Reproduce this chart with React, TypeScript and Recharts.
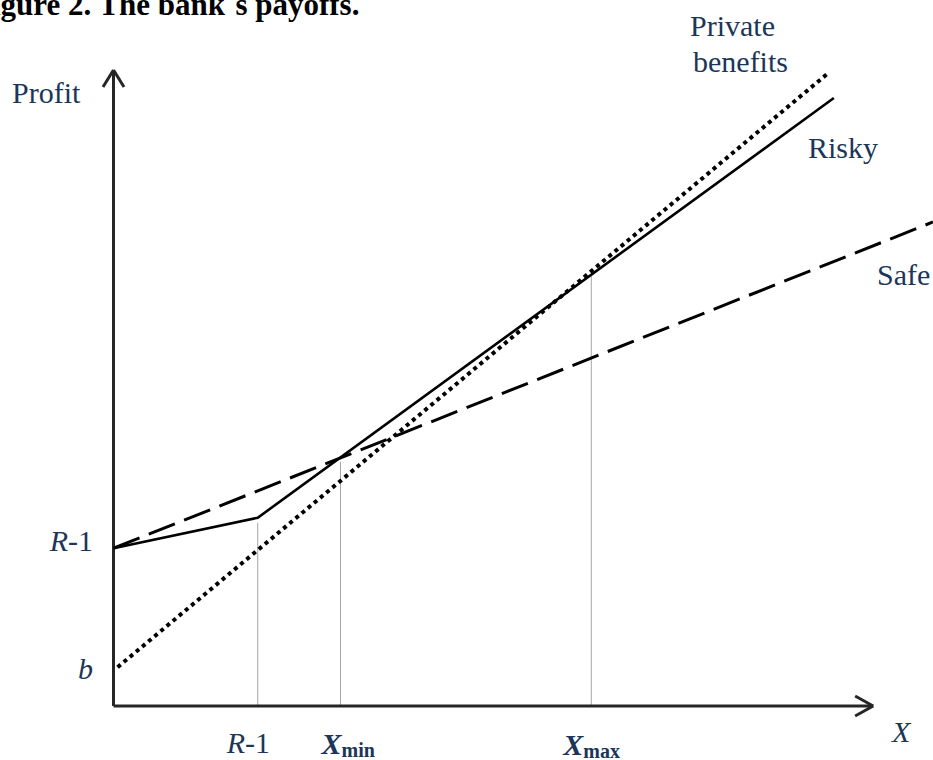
import { LineChart, Line, XAxis, YAxis, ReferenceLine } from "recharts";

// (arbitrary units: x 0..100, profit 0..100)
const safeX = [0, 100];
const safeY = [24.8, 76.1];
const riskyX = [0, 17.6, 87.9];
const riskyY = [24.8, 29.6, 95.6];
const privateX = [0.5, 87.2];
const privateY = [6.1, 99.5];

const xTickValues = [17.6, 27.7, 58.3];
const xTickLabels = ["R-1", "Xmin", "Xmax"];
const guideTops = [28.8, 38.4, 67.6];
const yTickValues = [6.1, 24.8];
const yTickLabels = ["b", "R-1"];

const xAxisEnd = 92.7;
const yAxisEnd = 100;

const TITLE = "Figure 2. The bank´s payoffs.";
const SERIF = '"Liberation Serif", "Times New Roman", serif';
const INK = "#1b3658";

const toPoints = (xs: number[], ys: number[]) => xs.map((x, i) => ({ x, y: ys[i] }));

function LabelText({ text }: { text: string }) {
  if (text.startsWith("X") && text.length > 1) {
    return (
      <>
        <tspan fontStyle="italic" fontWeight="bold">X</tspan>
        <tspan fontWeight="bold" fontSize={20} dy={3}>{text.slice(1)}</tspan>
      </>
    );
  }
  if (text === "R-1") {
    return (
      <>
        <tspan fontStyle="italic">R</tspan>
        <tspan>-1</tspan>
      </>
    );
  }
  return <tspan fontStyle="italic">{text}</tspan>;
}

const xTickDx = [-31, -19, -28];
const xTickBaseline = [753, 754, 755];

function XTick(props: any) {
  const i = xTickValues.indexOf(props.payload.value);
  if (i < 0) return null;
  return (
    <text x={props.x + xTickDx[i]} y={xTickBaseline[i]} fontFamily={SERIF} fontSize={30} fill={INK}>
      <LabelText text={xTickLabels[i]} />
    </text>
  );
}

const yTickDy = [12, 3];

function YTick(props: any) {
  const i = yTickValues.indexOf(props.payload.value);
  if (i < 0) return null;
  return (
    <text x={93} y={props.y + yTickDy[i]} textAnchor="end" fontFamily={SERIF} fontSize={30} fill={INK}>
      <LabelText text={yTickLabels[i]} />
    </text>
  );
}

const AXIS = "#262626";

export default function App() {
  return (
    <div style={{ position: "absolute", left: 0, top: 0, width: 933, height: 760, background: "#fff" }}>
      <LineChart width={933} height={760} margin={{ top: 70, right: 0, bottom: 0, left: 0 }}>
        <XAxis
          type="number"
          dataKey="x"
          domain={[0, 100]}
          ticks={xTickValues}
          tick={<XTick />}
          axisLine={false}
          tickLine={false}
          height={54}
          allowDataOverflow
        />
        <YAxis
          type="number"
          dataKey="y"
          domain={[0, 100]}
          ticks={yTickValues}
          tick={<YTick />}
          axisLine={false}
          tickLine={false}
          width={113.5}
          allowDataOverflow
        />

        {/* drop lines */}
        {xTickValues.map((x, i) => (
          <ReferenceLine
            key={`g${i}`}
            segment={[{ x, y: 0 }, { x, y: guideTops[i] }]}
            stroke="#a6a6a6"
            strokeWidth={1}
            ifOverflow="visible"
          />
        ))}

        {/* axes with arrow heads */}
        <ReferenceLine segment={[{ x: 0, y: 0 }, { x: xAxisEnd, y: 0 }]} stroke={AXIS} strokeWidth={3} ifOverflow="visible" />
        <ReferenceLine segment={[{ x: 0, y: 0 }, { x: 0, y: yAxisEnd }]} stroke={AXIS} strokeWidth={3} ifOverflow="visible" />
        <ReferenceLine segment={[{ x: xAxisEnd - 2.2, y: 1.57 }, { x: xAxisEnd, y: 0 }]} stroke={AXIS} strokeWidth={3} ifOverflow="visible" />
        <ReferenceLine segment={[{ x: xAxisEnd - 2.2, y: -1.57 }, { x: xAxisEnd, y: 0 }]} stroke={AXIS} strokeWidth={3} ifOverflow="visible" />
        <ReferenceLine segment={[{ x: -1.28, y: yAxisEnd - 2.67 }, { x: 0, y: yAxisEnd }]} stroke={AXIS} strokeWidth={3} ifOverflow="visible" />
        <ReferenceLine segment={[{ x: 1.28, y: yAxisEnd - 2.67 }, { x: 0, y: yAxisEnd }]} stroke={AXIS} strokeWidth={3} ifOverflow="visible" />

        <Line
          data={toPoints(safeX, safeY)}
          dataKey="y"
          type="linear"
          stroke="#000"
          strokeWidth={3}
          strokeDasharray="28 10"
          dot={false}
          isAnimationActive={false}
        />
        <Line
          data={toPoints(riskyX, riskyY)}
          dataKey="y"
          type="linear"
          stroke="#000"
          strokeWidth={2.6}
          dot={false}
          isAnimationActive={false}
        />
        <Line
          data={toPoints(privateX, privateY)}
          dataKey="y"
          type="linear"
          stroke="#000"
          strokeWidth={4}
          strokeDasharray="4 4"
          dot={false}
          isAnimationActive={false}
        />

        <text x={-27} y={15} fontFamily={SERIF} fontSize={31} fontWeight="bold" fill="#000">
          {TITLE}
        </text>
        <text x={12} y={103} fontFamily={SERIF} fontSize={30} fill={INK}>Profit</text>
        <text x={892} y={742} fontFamily={SERIF} fontSize={30} fontStyle="italic" fill={INK}>X</text>
        <text x={690} y={36} fontFamily={SERIF} fontSize={30} fill={INK}>Private</text>
        <text x={693} y={72} fontFamily={SERIF} fontSize={30} fill={INK}>benefits</text>
        <text x={808} y={158} fontFamily={SERIF} fontSize={30} fill={INK}>Risky</text>
        <text x={877} y={285} fontFamily={SERIF} fontSize={30} fill={INK}>Safe</text>
      </LineChart>
    </div>
  );
}
